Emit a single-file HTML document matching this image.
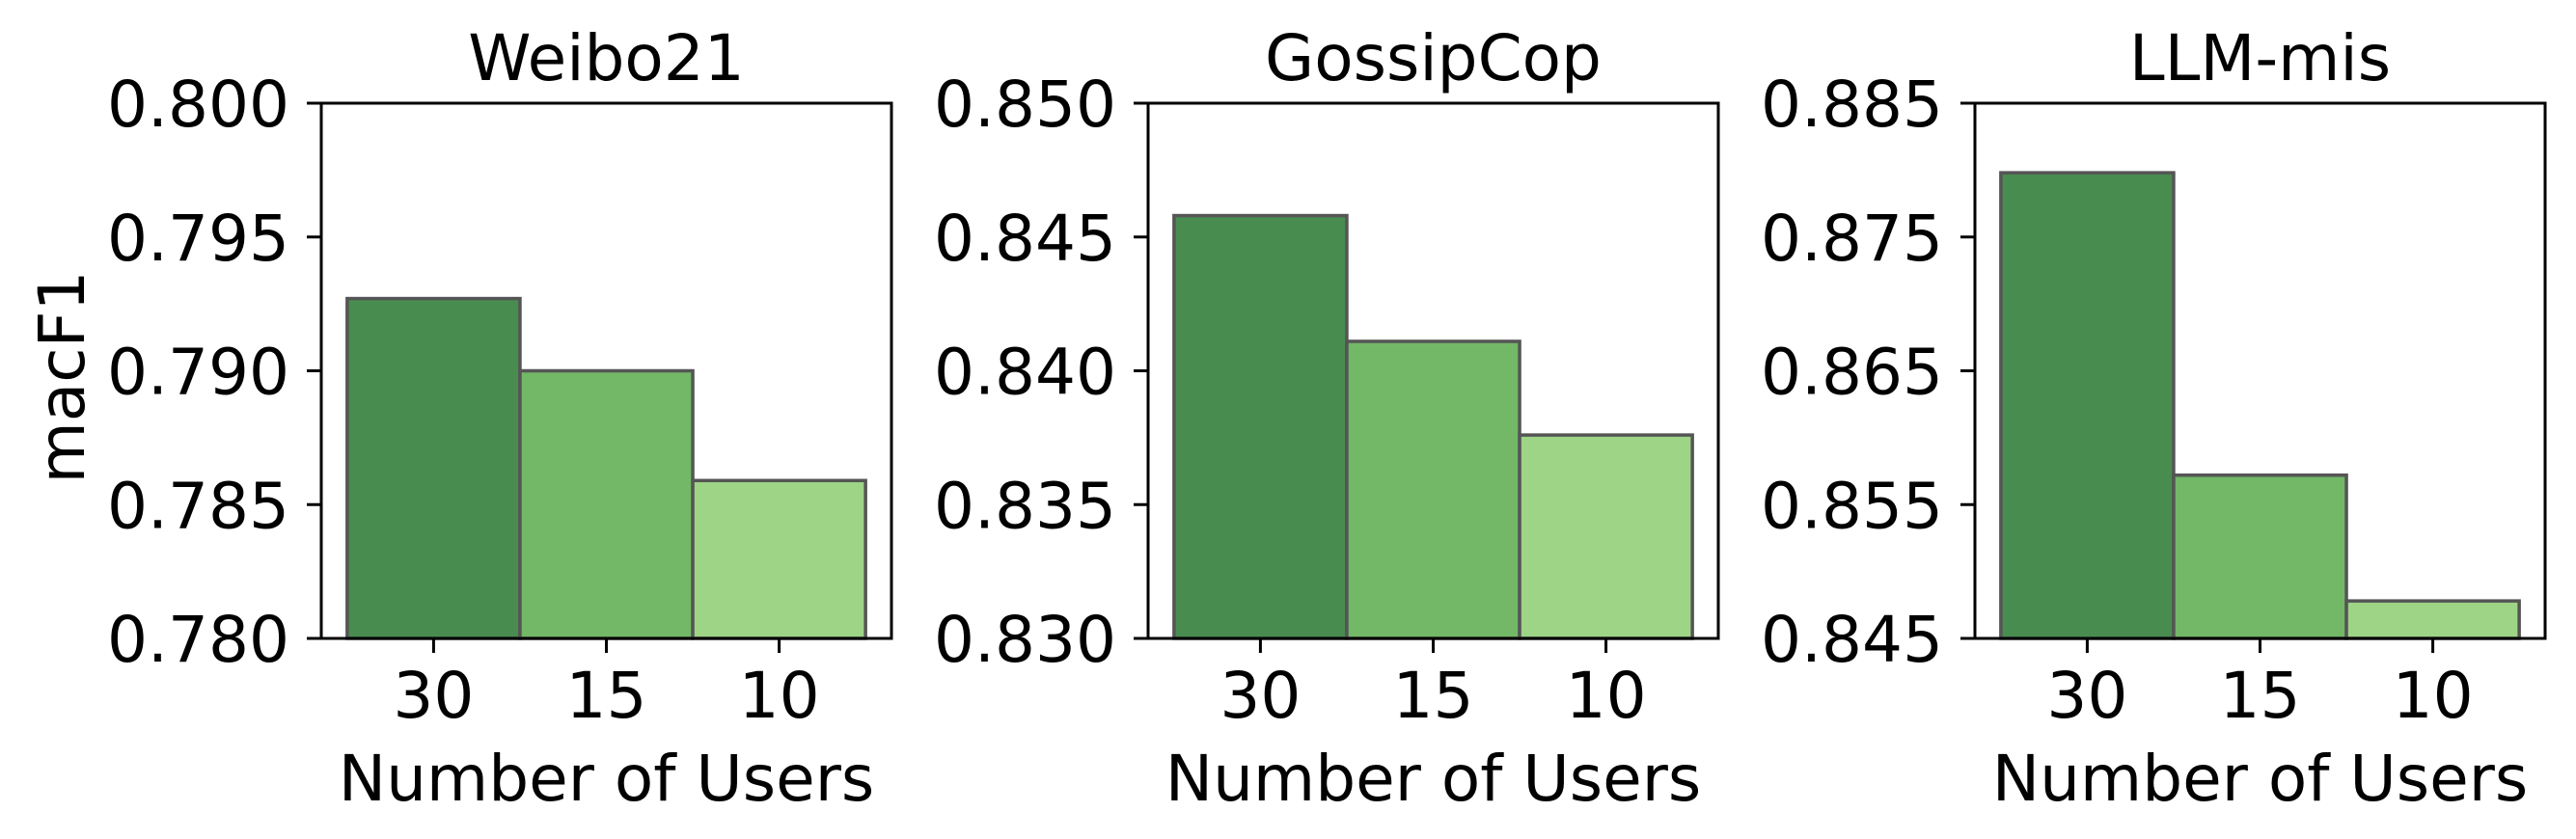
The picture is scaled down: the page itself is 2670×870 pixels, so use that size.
<!DOCTYPE html>
<html><head><meta charset="utf-8"><style>
html,body{margin:0;padding:0;background:#fff}
svg{display:block}
text{font-family:"DejaVu Sans","Liberation Sans",sans-serif;fill:#000}
</style></head><body>
<svg id="chart" width="2670" height="870" viewBox="0 0 2670 870" xmlns="http://www.w3.org/2000/svg">
<text x="87" y="391" font-size="66" text-anchor="middle" transform="rotate(-90 87 391)">macF1</text>
</svg>
<script>
const categories = ["30", "15", "10"];
const panelTitles = ["Weibo21", "GossipCop", "LLM-mis"];
const weiboValues = [0.7927, 0.7900, 0.7859];
const gossipValues = [0.8458, 0.8411, 0.8376];
const llmValues = [0.8798, 0.8572, 0.8478];
const weiboTicks = ["0.780", "0.785", "0.790", "0.795", "0.800"];
const gossipTicks = ["0.830", "0.835", "0.840", "0.845", "0.850"];
const llmTicks = ["0.845", "0.855", "0.865", "0.875", "0.885"];
const barColors = ["#498c4f", "#72b866", "#9dd486"];

const NS = "http://www.w3.org/2000/svg";
const svg = document.getElementById("chart");
function mk(tag, attrs, parent) {
  const e = document.createElementNS(NS, tag);
  for (const k in attrs) e.setAttribute(k, attrs[k]);
  (parent || svg).appendChild(e);
  return e;
}
const panels = [
  {values: weiboValues, ticks: weiboTicks, left: 333},
  {values: gossipValues, ticks: gossipTicks, left: 1190},
  {values: llmValues, ticks: llmTicks, left: 2047}
];
const W = 591, TOP = 107, BOT = 662, FS = 66;
panels.forEach((p, pi) => {
  const g = mk("g", {});
  
  
  const ymin = parseFloat(p.ticks[0]), ymax = parseFloat(p.ticks[p.ticks.length - 1]);
  const yS = v => BOT - (v - ymin) / (ymax - ymin) * (BOT - TOP);
  const xS = v => p.left + (v + 0.65) / 3.3 * W;
  p.values.forEach((v, i) => {
    const r = mk("rect", {x: xS(i - 0.5), y: yS(v), width: xS(i + 0.5) - xS(i - 0.5), height: BOT - yS(v), fill: barColors[i], stroke: "#555", "stroke-width": 3.5}, g);
    
    
  });
  const fr = mk("rect", {x: p.left, y: TOP, width: W, height: BOT - TOP, fill: "none", stroke: "#000", "stroke-width": 3}, g);
  
  
  p.ticks.forEach(t => {
    const y = yS(parseFloat(t));
    mk("line", {x1: p.left - 15, x2: p.left, y1: y, y2: y, stroke: "#000", "stroke-width": 3}, g);
    const tx = mk("text", {x: p.left - 33, y: y + 24, "font-size": FS, "text-anchor": "end"}, g);
    tx.textContent = t;
    
    
  });
  categories.forEach((c, i) => {
    const x = xS(i);
    mk("line", {x1: x, x2: x, y1: BOT, y2: BOT + 15, stroke: "#000", "stroke-width": 3}, g);
    const tx = mk("text", {x: x, y: 744, "font-size": FS, "text-anchor": "middle"}, g);
    tx.textContent = c;
    
    
  });
  const xl = mk("text", {x: p.left + W / 2, y: 830, "font-size": FS, "text-anchor": "middle"}, g);
  xl.textContent = "Number of Users";
  
  
  const tl = mk("text", {x: p.left + W / 2, y: 83, "font-size": FS, "text-anchor": "middle"}, g);
  tl.textContent = panelTitles[pi];
  
  
});
</script>
</body></html>
